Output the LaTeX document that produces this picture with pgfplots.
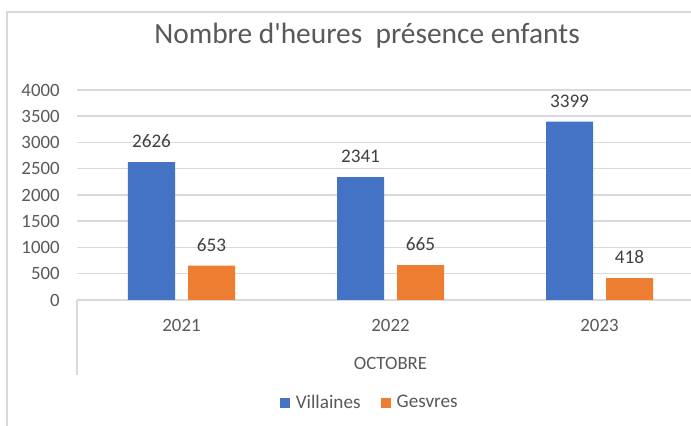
\documentclass[border=0pt]{standalone}
\usepackage{fontspec}
\setmainfont{Carlito}
\usepackage{pgfplots}
\pgfplotsset{compat=1.18}
\definecolor{cblue}{HTML}{4472C4}
\definecolor{corange}{HTML}{ED7D31}
\definecolor{ctext}{HTML}{595959}
\definecolor{clabel}{HTML}{404040}
\definecolor{cgrid}{HTML}{D9D9D9}
\begin{document}
\begin{tikzpicture}
\useasboundingbox (0,0) rectangle (345.5pt,213pt);
\clip (0,0) rectangle (345.5pt,213pt);
\fill[white] (0,0) rectangle (345.5pt,213pt);
\draw[cgrid, line width=0.9pt] (3.5pt,-2pt) -- (3.5pt,207pt) -- (400pt,207pt);
\begin{axis}[
  at={(38.5pt,63pt)}, anchor=south west,
  scale only axis, width=313.5pt, height=105pt,
  ybar, bar width=23.5pt,
  xmin=-0.5, xmax=2.5, ymin=0, ymax=4000,
  xtick={0,1,2}, xticklabels={2021,2022,2023},
  ytick={0,500,...,4000},
  /pgf/number format/assume math mode=true,
  /pgf/number format/1000 sep={},
  axis x line*=bottom, axis y line*=left,
  x axis line style={draw=cgrid, line width=0.75pt, -},
  y axis line style={draw=none},
  major tick length=0pt,
  ymajorgrids, grid style={draw=cgrid, line width=0.75pt},
  tick label style={font=\fontsize{9.4pt}{11pt}\selectfont, text=ctext},
  yticklabel style={inner sep=0pt, xshift=-8.5pt},
  xticklabel style={inner sep=0pt, anchor=north, yshift=-9.5pt},
  xlabel={OCTOBRE},
  xlabel style={at={(axis description cs:0.5,0)}, anchor=north, inner sep=0pt, yshift=-28.5pt, font=\fontsize{9.4pt}{11pt}\selectfont, text=ctext},
  title={Nombre d\textquotesingle heures\ \ présence enfants},
  title style={at={(axis description cs:0.4625,1.2)}, anchor=center, inner sep=0pt, font=\fontsize{14.7pt}{17pt}\selectfont, text=ctext},
  nodes near coords,
  every node near coord/.append style={font=\fontsize{9.6pt}{11pt}\selectfont, text=clabel, anchor=south, inner sep=0pt, yshift=7pt},
  legend columns=2,
  legend style={draw=none, fill=none, at={(axis description cs:0.4685,-0.4905)}, anchor=center, font=\fontsize{9.6pt}{11pt}\selectfont, text=ctext, /tikz/every even column/.append style={column sep=8pt}},
  legend image code/.code={\fill[#1] (0pt,-2.5pt) rectangle (5pt,2.5pt); \path (6pt,0pt);},
  clip=false,
]
\addplot[fill=cblue, draw=none, bar shift=-15pt] coordinates {(0,2626) (1,2341) (2,3399)};
\addplot[fill=corange, draw=none, bar shift=15pt] coordinates {(0,653) (1,665) (2,418)};
\legend{Villaines, Gesvres}
\draw[cgrid, line width=0.75pt] (rel axis cs:0,0) -- ([yshift=-37.5pt]rel axis cs:0,0);
\end{axis}
\end{tikzpicture}
\end{document}
